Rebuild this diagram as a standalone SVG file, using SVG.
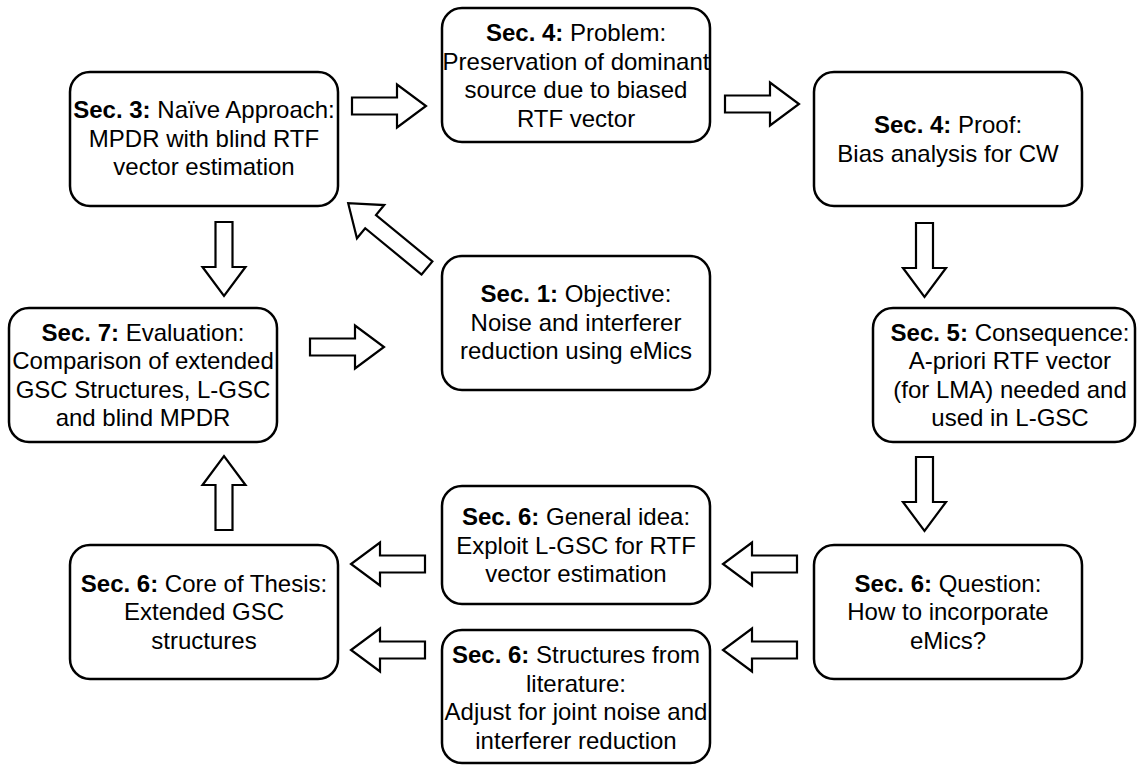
<svg xmlns="http://www.w3.org/2000/svg" width="1137" height="765" viewBox="0 0 1137 765">
<style>
.box{fill:#fff;stroke:#000;stroke-width:2.5}
.t{font-family:"Liberation Sans",Arial,sans-serif;font-size:24px;text-anchor:middle;fill:#000}
.b{font-weight:bold}
.arr{fill:#fff;stroke:#000;stroke-width:2.2;stroke-linejoin:miter}
</style>
<defs>
<path id="ar" d="M0,-8.5 H45 V-21.5 L74,0 L45,21.5 V8.5 H0 Z"/>
<path id="arl" d="M0,-8.5 H73 V-21.5 L102,0 L73,21.5 V8.5 H0 Z"/>
</defs>
<rect width="1137" height="765" fill="#fff"/>
<g id="connectors">
<use href="#ar" class="arr" transform="translate(352,106)"/>
<use href="#ar" class="arr" transform="translate(725,104)"/>
<use href="#ar" class="arr" transform="translate(924.5,223) rotate(90)"/>
<use href="#ar" class="arr" transform="translate(924.5,457) rotate(90)"/>
<use href="#ar" class="arr" transform="translate(797,564) rotate(180)"/>
<use href="#ar" class="arr" transform="translate(797,650) rotate(180)"/>
<use href="#ar" class="arr" transform="translate(425,564) rotate(180)"/>
<use href="#ar" class="arr" transform="translate(425,650) rotate(180)"/>
<use href="#ar" class="arr" transform="translate(224,530) rotate(-90)"/>
<use href="#ar" class="arr" transform="translate(224,222) rotate(90)"/>
<use href="#ar" class="arr" transform="translate(310,347)"/>
<use href="#arl" class="arr" transform="translate(427,268) rotate(-140.6)"/>
</g>
<g id="sec3">
<rect class="box" x="70" y="72" width="268" height="134" rx="20"/>
<text class="t" x="204" y="118"><tspan class="b">Sec. 3:</tspan> Naïve Approach:</text>
<text class="t" x="204" y="146.5">MPDR with blind RTF</text>
<text class="t" x="204" y="175">vector estimation</text>
</g>
<g id="sec4problem">
<rect class="box" x="442" y="8" width="268" height="134" rx="20"/>
<text class="t" x="576" y="41"><tspan class="b">Sec. 4:</tspan> Problem:</text>
<text class="t" x="576" y="69.5">Preservation of dominant</text>
<text class="t" x="576" y="98">source due to biased</text>
<text class="t" x="576" y="126.5">RTF vector</text>
</g>
<g id="sec4proof">
<rect class="box" x="814" y="72" width="268" height="134" rx="20"/>
<text class="t" x="948" y="133"><tspan class="b">Sec. 4:</tspan> Proof:</text>
<text class="t" x="948" y="161.5">Bias analysis for CW</text>
</g>
<g id="sec1">
<rect class="box" x="442" y="256" width="268" height="134" rx="20"/>
<text class="t" x="576" y="302"><tspan class="b">Sec. 1:</tspan> Objective:</text>
<text class="t" x="576" y="330.5">Noise and interferer</text>
<text class="t" x="576" y="359">reduction using eMics</text>
</g>
<g id="sec7">
<rect class="box" x="9" y="308" width="268" height="134" rx="20"/>
<text class="t" x="143" y="340.5"><tspan class="b">Sec. 7:</tspan> Evaluation:</text>
<text class="t" x="143" y="369">Comparison of extended</text>
<text class="t" x="143" y="397.5">GSC Structures, L-GSC</text>
<text class="t" x="143" y="426">and blind MPDR</text>
</g>
<g id="sec5">
<rect class="box" x="873" y="308" width="262" height="134" rx="20"/>
<text class="t" x="1010" y="340.5"><tspan class="b">Sec. 5:</tspan> Consequence:</text>
<text class="t" x="1010" y="369">A-priori RTF vector</text>
<text class="t" x="1010" y="397.5">(for LMA) needed and</text>
<text class="t" x="1010" y="426">used in L-GSC</text>
</g>
<g id="sec6general">
<rect class="box" x="442" y="486" width="268" height="118" rx="20"/>
<text class="t" x="576" y="525"><tspan class="b">Sec. 6:</tspan> General idea:</text>
<text class="t" x="576" y="553.5">Exploit L-GSC for RTF</text>
<text class="t" x="576" y="582">vector estimation</text>
</g>
<g id="sec6core">
<rect class="box" x="70" y="545" width="268" height="134" rx="20"/>
<text class="t" x="204" y="591.5"><tspan class="b">Sec. 6:</tspan> Core of Thesis:</text>
<text class="t" x="204" y="620">Extended GSC</text>
<text class="t" x="204" y="648.5">structures</text>
</g>
<g id="sec6question">
<rect class="box" x="814" y="545" width="268" height="134" rx="20"/>
<text class="t" x="948" y="591.5"><tspan class="b">Sec. 6:</tspan> Question:</text>
<text class="t" x="948" y="620">How to incorporate</text>
<text class="t" x="948" y="648.5">eMics?</text>
</g>
<g id="sec6structures">
<rect class="box" x="442" y="630" width="268" height="133" rx="20"/>
<text class="t" x="576" y="663"><tspan class="b">Sec. 6:</tspan> Structures from</text>
<text class="t" x="576" y="691.5">literature:</text>
<text class="t" x="576" y="720">Adjust for joint noise and</text>
<text class="t" x="576" y="748.5">interferer reduction</text>
</g>
</svg>
